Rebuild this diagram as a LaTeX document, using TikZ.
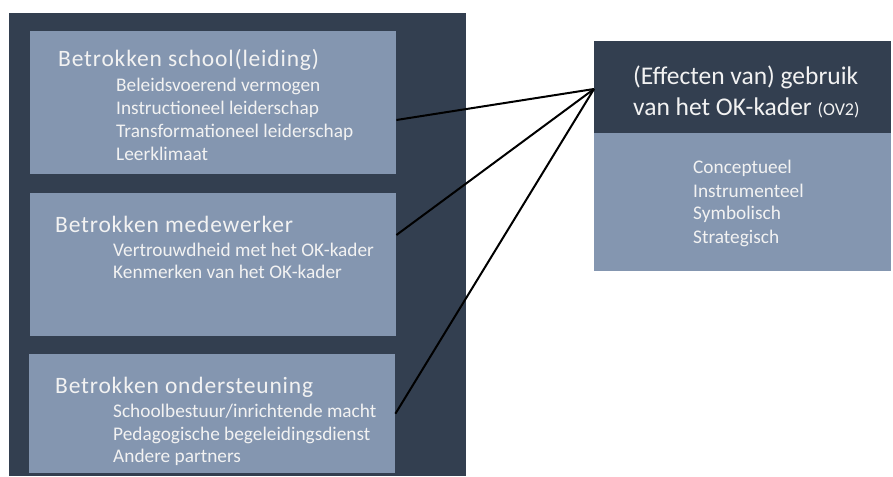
\documentclass[tikz,border=0pt]{standalone}
\usepackage{fontspec}
\setmainfont{Carlito}
\newfontfamily\titlefont[LetterSpace=3.5]{Carlito}
\definecolor{panel}{HTML}{333F50}
\definecolor{pale}{HTML}{8496B0}
\definecolor{ink}{HTML}{F2F2F2}
\begin{document}
\begin{tikzpicture}[x=1pt,y=-1pt,
  block/.style={fill=pale, draw=none, anchor=north west, inner sep=0pt},
  head/.style={text=ink, anchor=base west, inner sep=0pt, font=\titlefont\fontsize{23.5}{28}\selectfont},
  outhead/.style={text=ink, anchor=base west, inner sep=0pt, font=\fontsize{25.5}{30}\selectfont},
  item/.style={text=ink, anchor=base west, inner sep=0pt, font=\fontsize{19.3}{23}\selectfont},
  link/.style={draw=black, line width=2pt}]
  % canvas
  \fill[white] (0,0) rectangle (893,476);
  \useasboundingbox (0,0) rectangle (893,476);
  % dark panel behind the three factor blocks
  \fill[panel] (9,13) rectangle (466,476);

  % block 1
  \node[block, minimum width=366pt, minimum height=143pt] (b1) at (30,31) {};
  \node[head] (t1) at (58,67) {Betrokken school(leiding)};
  \node[item] (t1a) at (116,92) {Beleidsvoerend vermogen};
  \node[item] (t1b) at (116,114) {Instructioneel leiderschap};
  \node[item] (t1c) at (116,137) {Transformationeel leiderschap};
  \node[item] (t1d) at (116,160) {Leerklimaat};

  % block 2
  \node[block, minimum width=366pt, minimum height=143pt] (b2) at (30,193) {};
  \node[head] (t2) at (55,232) {Betrokken medewerker};
  \node[item] (t2a) at (113,256) {Vertrouwdheid met het OK-kader};
  \node[item] (t2b) at (113,278) {Kenmerken van het OK-kader};

  % block 3
  \node[block, minimum width=366pt, minimum height=119pt] (b3) at (29,354) {};
  \node[head] (t3) at (55,393) {Betrokken ondersteuning};
  \node[item] (t3a) at (113,417) {Schoolbestuur/inrichtende macht};
  \node[item] (t3b) at (113,440) {Pedagogische begeleidingsdienst};
  \node[item] (t3c) at (113,462) {Andere partners};

  % outcome block
  \node[block, fill=panel, minimum width=297pt, minimum height=92pt] (hd) at (594,41) {};
  \node[block, minimum width=297pt, minimum height=138pt] (bd) at (594,133) {};
  \node[outhead] (h1) at (633,85) {(Effecten van) gebruik};
  \node[outhead] (h2) at (633,115) {van het OK-kader {\fontsize{18}{21}\selectfont (OV2)}};
  \node[item] (r1) at (693,173) {Conceptueel};
  \node[item] (r2) at (693,197) {Instrumenteel};
  \node[item] (r3) at (693,219) {Symbolisch};
  \node[item] (r4) at (693,243) {Strategisch};

  % connectors
  \coordinate (s1) at ([yshift=-89pt]b1.north east);
  \coordinate (s2) at ([yshift=-42pt]b2.north east);
  \coordinate (tip) at ([yshift=-48pt]hd.north west);
  \draw[link] (s1) -- (tip);
  \draw[link] (s2) -- (tip);
  \draw[link] (b3.east) -- (tip);
\end{tikzpicture}
\end{document}
